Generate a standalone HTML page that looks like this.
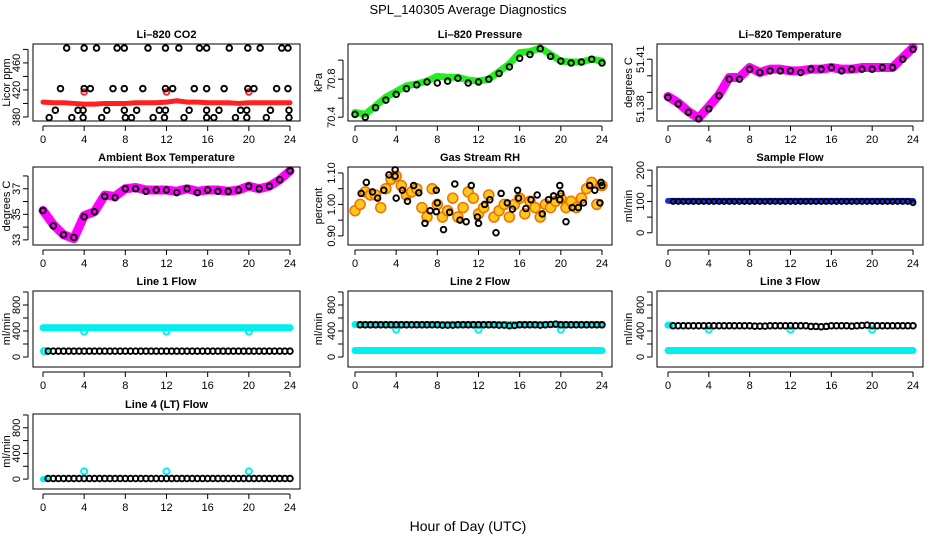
<!DOCTYPE html>
<html><head><meta charset="utf-8">
<style>
html,body{margin:0;padding:0;background:#fff;}
svg{display:block;font-family:"Liberation Sans",Arial,sans-serif;}
</style></head>
<body>
<svg id="chart" width="936" height="540" viewBox="0 0 936 540" xmlns="http://www.w3.org/2000/svg">
<rect x="0" y="0" width="936" height="540" fill="#fff"/>
<text x="468" y="14" font-size="13" text-anchor="middle">SPL_140305  Average Diagnostics</text>
<text x="468" y="531" font-size="14" text-anchor="middle">Hour of Day (UTC)</text>
</svg>
<script>
// ---- data ----
const hourly = [0,1,2,3,4,5,6,7,8,9,10,11,12,13,14,15,16,17,18,19,20,21,22,23,24];
const halfHours = [0.5,1,1.5,2,2.5,3,3.5,4,4.5,5,5.5,6,6.5,7,7.5,8,8.5,9,9.5,10,10.5,11,11.5,12,12.5,13,13.5,14,14.5,15,15.5,16,16.5,17,17.5,18,18.5,19,19.5,20,20.5,21,21.5,22,22.5,23,23.5,24];
const rhHours = [0,0.5,1,1.5,2,2.5,3,3.5,4,4.5,5,5.5,6,6.5,7,7.5,8,8.5,9,9.5,10,10.5,11,11.5,12,12.5,13,13.5,14,14.5,15,15.5,16,16.5,17,17.5,18,18.5,19,19.5,20,20.5,21,21.5,22,22.5,23,23.5,24];

// CO2
const co2Red = [402,401,401,400,399,399,400,400,400,401,401,401,402,404,402,402,401,401,401,400,401,401,401,401,401];
const co2BlackX = [2.3,4.0,5.2,7.2,7.9,10.2,11.9,13.2,15.2,15.9,18.1,19.9,21.1,23.2,23.8, 1.7,4.0,4.6,6.8,7.9,9.7,11.9,12.6,14.7,15.9,17.6,19.9,20.5,22.7,23.8, 1.2,3.4,3.9,6.2,7.9,9.1,11.3,11.9,14.2,15.9,17.1,19.2,19.8,22.1,23.9, 0.6,2.8,3.9,5.7,8.0,8.6,10.7,11.8,13.7,15.9,16.6,18.7,19.8,21.7,23.9];
const co2BlackY = [482,482,482,482,482,482,482,482,482,482,482,482,482,482,482, 422,422,422,422,422,422,422,422,422,422,422,422,422,422,422, 390,390,390,390,390,390,390,390,390,390,390,390,390,390,390, 379,379,379,379,379,379,379,379,379,379,379,379,379,379,379];
const co2RedPtX = [4,12,20];
const co2RedPtY = [417,417,417];

// Pressure
const presBand = [70.45,70.43,70.52,70.61,70.67,70.73,70.75,70.78,70.83,70.82,70.82,70.79,70.78,70.80,70.88,70.96,71.08,71.09,71.13,71.06,70.99,70.98,70.98,71.01,70.99];
const presBlack = [70.43,70.40,70.50,70.58,70.64,70.70,70.74,70.77,70.76,70.78,70.81,70.76,70.77,70.80,70.86,70.93,71.02,71.06,71.12,71.04,70.99,70.97,70.98,71.01,70.97];

// Li-820 temperature
const ltBand = [51.3875,51.3837,51.3784,51.3745,51.3814,51.3886,51.399,51.399,51.405,51.402,51.404,51.404,51.403,51.403,51.404,51.404,51.405,51.404,51.404,51.405,51.405,51.405,51.405,51.411,51.417];
const ltBlack = [51.387,51.383,51.378,51.374,51.380,51.388,51.398,51.398,51.404,51.402,51.403,51.403,51.403,51.402,51.404,51.404,51.405,51.403,51.404,51.404,51.404,51.405,51.405,51.410,51.416];

// Ambient temperature
const ambBand = [35.3,34.2,33.4,33.1,34.9,35.2,36.5,36.4,37.0,37.1,36.9,36.9,36.9,36.8,37.0,36.8,36.9,36.9,36.8,36.9,37.2,37.0,37.2,37.7,38.4];
const ambBlack = [35.3,34.1,33.4,33.2,34.8,35.2,36.4,36.3,37.0,37.0,36.8,36.9,36.9,36.7,37.0,36.7,36.9,36.8,36.8,36.9,37.2,37.0,37.2,37.7,38.4];

// Gas stream RH
const rhCloud = [0.98,1.00,1.04,1.03,1.03,0.99,1.05,1.08,1.09,1.06,1.03,1.04,1.05,0.99,0.96,1.05,1.00,0.96,0.98,1.02,0.96,0.99,1.04,1.02,0.97,0.99,1.03,0.96,0.98,1.00,0.96,1.00,1.02,0.97,1.01,0.99,0.96,1.00,0.99,1.01,1.02,0.99,1.01,0.99,1.02,1.05,1.07,1.00,1.06];
const rhBlackX = [0.6,1.1,1.7,2.2,2.8,3.3,3.9,3.9,4.0,4.6,5.1,5.7,6.2,6.8,7.3,7.9,7.9,8.0,8.6,9.2,9.7,10.2,10.8,11.3,11.9,12.0,12.6,13.1,13.7,14.2,14.8,15.3,15.8,15.9,16.6,17.1,17.7,18.2,18.8,19.3,19.9,19.9,20.0,20.5,21.1,21.7,22.2,22.8,23.3,23.8,23.9,24.0];
const rhBlackY = [1.035,1.07,1.04,1.02,1.045,1.094,1.11,1.09,1.02,1.045,1.01,1.06,1.037,0.94,0.98,1.045,0.977,1.005,0.92,0.975,1.065,0.95,0.945,1.06,0.96,0.94,1.0,1.015,0.91,1.035,1.005,0.985,1.045,1.02,0.987,1.015,1.03,0.97,1.015,1.027,1.06,1.015,1.035,0.945,0.99,0.99,1.005,1.06,1.045,1.005,1.07,1.06];

// Flows
const sampleBand = [102,102,102,102,102,102,102,102,102,102,102,102,102,102,102,102,102,102,102,102,102,102,102,102,102];
const sampleBlack = [100,100,100,100,100,100,100,100,100,100,100,100,100,100,100,100,100,100,100,100,100,100,100,100,100,100,100,100,100,100,100,100,100,100,100,100,100,100,100,100,100,100,100,100,100,100,100,96];
const line1Cyan = [450,450,450,450,450,450,450,450,450,450,450,450,450,450,450,450,450,450,450,450,450,450,450,450,450];
const line1Black = [90,90,90,90,90,90,90,90,90,90,90,90,90,90,90,90,90,90,90,90,90,90,90,90,90,90,90,90,90,90,90,90,90,90,90,90,90,90,90,90,90,90,90,90,90,90,90,90];
const line2CyanHi = [500,500,500,500,500,500,500,500,500,500,500,500,500,500,500,500,500,500,500,500,500,500,500,500,500];
const line2CyanLo = [100,100,100,100,100,100,100,100,100,100,100,100,100,100,100,100,100,100,100,100,100,100,100,100,100];
const line2Black = [495,495,495,495,495,495,495,495,495,495,495,495,495,495,495,495,490,490,490,495,495,495,495,495,495,495,495,490,490,480,485,495,495,495,495,490,495,500,505,495,495,495,495,495,495,495,495,495];
const line3CyanLo = [100,100,100,100,100,100,100,100,100,100,100,100,100,100,100,100,100,100,100,100,100,100,100,100,100];
const line3Black = [480,480,480,480,480,480,480,480,480,480,480,480,480,480,480,480,475,475,475,480,480,480,480,480,480,480,480,470,470,465,470,480,480,480,480,475,480,485,490,480,480,480,480,480,480,480,480,480];
const line4CyanStart = [0,0];
const line4Black = [10,10,10,10,10,10,10,10,10,10,10,10,10,10,10,10,10,10,10,10,10,10,10,10,10,10,10,10,10,10,10,10,10,10,10,10,10,10,10,10,10,10,10,10,10,10,10,10];
const dipHours = [4,12,20];
const line1Dips = [390,390,390];
const line2Dips = [420,420,420];
const line3Dips = [420,420,420];
const line4Dips = [120,120,120];

// ---- drawing ----
const NS = 'http://www.w3.org/2000/svg';
const svg = document.getElementById('chart');
function mk(tag, attrs, parent){
  const e = document.createElementNS(NS, tag);
  for (const k in attrs) e.setAttribute(k, attrs[k]);
  (parent||svg).appendChild(e);
  return e;
}
const cols = [{b0:33,b1:300,t0:43,t1:290,lab:10},{b0:348,b1:612,t0:355,t1:602,lab:322},{b0:657,b1:923,t0:668,t1:913,lab:632}];
const rows = [{top:44,bot:121},{top:167,bot:245},{top:291,bot:367},{top:414,bot:489}];

function panel(name, title, col, row, ymin, ymax, ticks, labels, ylab){
  const c = cols[col], r = rows[row];
  const g = mk('g', {});
  
  
  const sx = h => c.t0 + (h/24)*(c.t1-c.t0);
  const sy = v => r.bot - (v-ymin)/(ymax-ymin)*(r.bot-r.top);
  const t = mk('text', {x:(c.b0+c.b1)/2, y:r.top-6, 'font-size':11, 'font-weight':'bold', 'text-anchor':'middle'}, g);
  t.textContent = title;
  
  
  const plot = mk('g', {}, g);
  
  
  const xa = mk('g', {}, g);
  
  
  mk('line', {x1:sx(0), x2:sx(24), y1:r.bot+5, y2:r.bot+5, stroke:'#000'}, xa);
  for (let h=0; h<=24; h+=4){
    mk('line', {x1:sx(h), x2:sx(h), y1:r.bot+5, y2:r.bot+10, stroke:'#000'}, xa);
    const tl = mk('text', {x:sx(h), y:r.bot+22, 'font-size':11, 'text-anchor':'middle'}, xa);
    tl.textContent = String(h);
    
    
  }
  const ya = mk('g', {}, g);
  
  
  mk('line', {x1:c.b0-5, x2:c.b0-5, y1:sy(ticks[0]), y2:sy(ticks[ticks.length-1]), stroke:'#000'}, ya);
  ticks.forEach(v => mk('line', {x1:c.b0-10, x2:c.b0-5, y1:sy(v), y2:sy(v), stroke:'#000'}, ya));
  labels.forEach(l => {
    const yy = sy(parseFloat(l)), xx = c.b0-13;
    const tl = mk('text', {x:xx, y:yy, 'font-size':11, 'text-anchor':'middle', transform:`rotate(-90 ${xx} ${yy})`}, ya);
    tl.textContent = l;
    
    
  });
  const ym = (r.top+r.bot)/2;
  const yl = mk('text', {x:c.lab, y:ym, 'font-size':11, 'text-anchor':'middle', transform:`rotate(-90 ${c.lab} ${ym})`}, ya);
  yl.textContent = ylab;
  
  
  const box = mk('rect', {x:c.b0, y:r.top, width:c.b1-c.b0, height:r.bot-r.top, fill:'none', stroke:'#000'}, g);
  
  
  return {sx, sy, plot};
}
function band(p, xs, ys, color, w, nm){
  const pts = xs.map((x,i)=>p.sx(x)+','+p.sy(ys[i])).join(' ');
  const e = mk('polyline', {points:pts, fill:'none', stroke:color, 'stroke-width':w, 'stroke-linejoin':'round', 'stroke-linecap':'round'}, p.plot);
  
  
}
function dots(p, xs, ys, color, rad, sw, nm, fill){
  xs.forEach((x,i)=>{
    const e = mk('circle', {cx:p.sx(x), cy:p.sy(ys[i]), r:rad, fill:fill||'none', stroke:color, 'stroke-width':sw}, p.plot);
    
    
  });
}
const BR = 2.8, BW = 1.9;

// CO2
let p = panel('co2', 'Li\u2013820 CO2', 0, 0, 374, 488, [380,400,420,440,460,480], ['380','420','460'], 'Licor ppm');
band(p, hourly, co2Red, '#ff2020', 5, 'co2-red-series');
dots(p, co2RedPtX, co2RedPtY, '#ff2020', BR, BW, 'co2-red-point');
dots(p, co2BlackX, co2BlackY, '#000', BR, BW, 'co2-black-point');

// Pressure
p = panel('pressure', 'Li\u2013820 Pressure', 1, 0, 70.36, 71.17, [70.4,70.6,70.8,71.0], ['70.4','70.8'], 'kPa');
band(p, hourly, presBand, '#22ee22', 7, 'pressure-band');
dots(p, hourly, presBlack, '#000', BR, BW, 'pressure-point');

// Li temp
p = panel('licor-temp', 'Li\u2013820 Temperature', 2, 0, 51.3727, 51.4192, [51.38,51.39,51.40,51.41], ['51.38','51.41'], 'degrees C');
band(p, hourly, ltBand, '#ff00ff', 9, 'licor-temp-band');
dots(p, hourly, ltBlack, '#000', BR, BW, 'licor-temp-point');

// Ambient
p = panel('ambient-temp', 'Ambient Box Temperature', 0, 1, 32.6, 38.7, [33,34,35,36,37,38], ['33','35','37'], 'degrees C');
band(p, hourly, ambBand, '#ff00ff', 9, 'ambient-temp-band');
dots(p, hourly, ambBlack, '#000', BR, BW, 'ambient-temp-point');

// RH
p = panel('gas-rh', 'Gas Stream RH', 1, 1, 0.871, 1.119, [0.90,0.95,1.00,1.05,1.10], ['0.90','1.00','1.10'], 'percent');
dots(p, rhHours, rhCloud, '#f07000', 5, 1.5, 'rh-cloud-point', '#ffc81a');
dots(p, rhBlackX, rhBlackY, '#000', BR, BW, 'rh-black-point');

// Sample flow
p = panel('sample-flow', 'Sample Flow', 2, 1, -39, 210, [0,50,100,150,200], ['0','100','200'], 'ml/min');
band(p, hourly, sampleBand, '#1030e0', 6, 'sample-flow-band');
dots(p, halfHours, sampleBlack, '#000', 2.5, BW, 'sample-flow-point');

const flowTicks = [0,200,400,600,800,1000], flowLabels = ['0','400','800'];
// Line 1
p = panel('line1-flow', 'Line 1 Flow', 0, 2, -154, 1015, flowTicks, flowLabels, 'ml/min');
band(p, hourly, line1Cyan, '#00f0f0', 7, 'line1-cyan-band');
dots(p, [0.1,0.2], [90,90], '#00f0f0', 3, 2, 'line1-cyan-start');
dots(p, dipHours, line1Dips, '#00f0f0', 3, 2, 'line1-cyan-dip');
dots(p, halfHours, line1Black, '#000', BR, BW, 'line1-black-point');

// Line 2
p = panel('line2-flow', 'Line 2 Flow', 1, 2, -154, 1015, flowTicks, flowLabels, 'ml/min');
band(p, hourly, line2CyanHi, '#00f0f0', 7, 'line2-cyan-high-band');
band(p, hourly, line2CyanLo, '#00f0f0', 7, 'line2-cyan-low-band');
dots(p, dipHours, line2Dips, '#00f0f0', 3, 2, 'line2-cyan-dip');
dots(p, halfHours, line2Black, '#000', BR, BW, 'line2-black-point');

// Line 3
p = panel('line3-flow', 'Line 3 Flow', 2, 2, -154, 1015, flowTicks, flowLabels, 'ml/min');
band(p, [0,0.2], [490,490], '#00f0f0', 7, 'line3-cyan-start');
band(p, hourly, line3CyanLo, '#00f0f0', 7, 'line3-cyan-low-band');
dots(p, dipHours, line3Dips, '#00f0f0', 3, 2, 'line3-cyan-dip');
dots(p, halfHours, line3Black, '#000', BR, BW, 'line3-black-point');

// Line 4
p = panel('line4-flow', 'Line 4 (LT) Flow', 0, 3, -154, 1015, flowTicks, flowLabels, 'ml/min');
band(p, [0,0.3], line4CyanStart, '#00f0f0', 6, 'line4-cyan-start');
dots(p, dipHours, line4Dips, '#00f0f0', 3, 2, 'line4-cyan-dip');
dots(p, halfHours, line4Black, '#000', BR, BW, 'line4-black-point');
</script>
</body></html>
